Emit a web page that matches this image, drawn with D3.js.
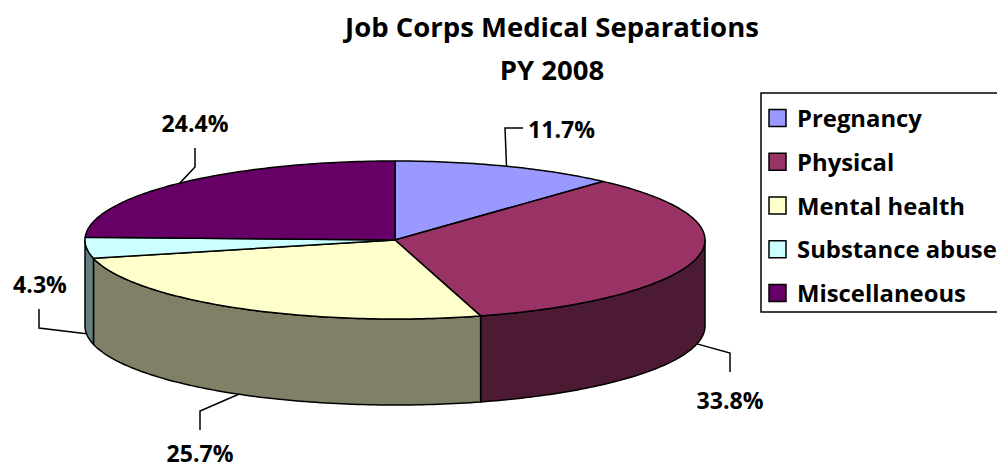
<!DOCTYPE html>
<html>
<head>
<meta charset="utf-8">
<script src="https://cdn.jsdelivr.net/npm/d3@7"></script>
<style>
  body { margin: 0; background: #fff; }
  text { font-family: "Open Sans", Lato, sans-serif; font-weight: bold; fill: #000; }
</style>
</head>
<body>
<svg id="chart" width="997" height="468"></svg>
<script>
// data
const categories = ['Pregnancy', 'Physical', 'Mental health', 'Substance abuse', 'Miscellaneous'];
const shares = [11.7, 33.8, 25.7, 4.3, 24.4];
const topColors = ['#9999FF', '#993366', '#FFFFCC', '#CCFFFF', '#660066'];
const titleLines = ['Job Corps Medical Separations', 'PY 2008'];

// layout
const cx = 395;
const cy = 240;
const rx = 310;
const ry = 79;
const depth = 86;

// leader line elbow / end and label anchor, per slice
const labelLayout = [
  { elbow: [505, 128], end: [523, 128], text: [528, 138], anchor: 'start' },
  { elbow: [730, 353], end: [730, 372], text: [730, 409], anchor: 'middle' },
  { elbow: [200, 411], end: [200, 430], text: [200, 462], anchor: 'middle' },
  { elbow: [39, 328], end: [39, 309], text: [40, 293], anchor: 'middle' },
  { elbow: [195, 167], end: [195, 148], text: [195, 132], anchor: 'middle' },
];

const svg = d3.select('#chart');

// scale a text's font so that it spans the wanted width
const fitFont = (sel, target) => {
  const base = 20;
  sel.style('font-size', `${base}px`);
  const w = sel.node().getComputedTextLength();
  return base * target / w;
};

// angle -> point on the tilted ellipse (0 = 12 o'clock, clockwise)
const proj = (a, dy = 0) => [cx + rx * Math.sin(a), cy - ry * Math.cos(a) + dy];

const arcPoints = (a0, a1, dy = 0) => {
  const n = Math.max(2, Math.ceil((a1 - a0) / (Math.PI / 180)));
  return d3.range(n + 1).map((k) => proj(a0 + (a1 - a0) * k / n, dy));
};

const shade = (c) => {
  const col = d3.rgb(c);
  return d3.rgb(col.r / 2, col.g / 2, col.b / 2).formatHex();
};

const pie = d3.pie().sort(null).value((d) => d)(shares);
const line = d3.line();

// outer walls (front half only)
const walls = svg.append('g');
pie.forEach((s, i) => {
  const a0 = Math.max(s.startAngle, Math.PI / 2);
  const a1 = Math.min(s.endAngle, 3 * Math.PI / 2);
  if (a1 <= a0) return;
  const pts = arcPoints(a0, a1).concat(arcPoints(a0, a1, depth).reverse());
  walls.append('path')
    .attr('d', `${line(pts)}Z`)
    .attr('fill', shade(topColors[i]))
    .attr('stroke', '#000')
    .attr('stroke-width', 1.5)
    .attr('stroke-linejoin', 'round');
});

// top faces
const tops = svg.append('g');
pie.forEach((s, i) => {
  const pts = [[cx, cy]].concat(arcPoints(s.startAngle, s.endAngle));
  tops.append('path')
    .attr('d', `${line(pts)}Z`)
    .attr('fill', topColors[i])
    .attr('stroke', '#000')
    .attr('stroke-width', 1.5)
    .attr('stroke-linejoin', 'round');
});

// data labels with leader lines
const labels = svg.append('g');
const labelTexts = [];
pie.forEach((s, i) => {
  const mid = (s.startAngle + s.endAngle) / 2;
  const front = Math.cos(mid) < 0;
  const p = proj(mid, front ? depth : 0);
  const L = labelLayout[i];
  labels.append('path')
    .attr('d', line([p, L.elbow, L.end]))
    .attr('fill', 'none')
    .attr('stroke', '#000')
    .attr('stroke-width', 1.5);
  labelTexts.push(labels.append('text')
    .attr('x', L.text[0])
    .attr('y', L.text[1])
    .attr('text-anchor', L.anchor)
    .text(`${d3.format('.1f')(s.data)}%`));
});
const labelSize = fitFont(labelTexts[4], 67);
labelTexts.forEach((t) => t.style('font-size', `${labelSize}px`));

// title
const title = svg.append('g')
  .selectAll('text')
  .data(titleLines)
  .join('text')
  .attr('x', 552)
  .attr('y', (d, i) => 37 + i * 43)
  .attr('text-anchor', 'middle')
  .text((d) => d);
const titleSize = fitFont(title.filter((d, i) => i === 0), 414);
title.style('font-size', `${titleSize}px`);

// legend
const legend = svg.append('g').attr('transform', 'translate(761,93)');
legend.append('rect')
  .attr('width', 260)
  .attr('height', 219)
  .attr('fill', '#fff')
  .attr('stroke', '#000')
  .attr('stroke-width', 1.5);

const rowY = d3.scalePoint().domain(categories).range([25, 200]);
const item = legend.selectAll('.item')
  .data(categories)
  .join('g')
  .attr('class', 'item')
  .attr('transform', (d) => `translate(0,${rowY(d)})`);
item.append('rect')
  .attr('x', 8)
  .attr('y', -8.5)
  .attr('width', 17)
  .attr('height', 17)
  .attr('fill', (d, i) => topColors[i])
  .attr('stroke', '#000')
  .attr('stroke-width', 1.5);
const legendText = item.append('text')
  .attr('x', 36)
  .attr('y', 9)
  .text((d) => d);
const legendSize = fitFont(legendText.filter((d, i) => i === 0), 125);
legendText.style('font-size', `${legendSize}px`);
</script>
</body>
</html>
